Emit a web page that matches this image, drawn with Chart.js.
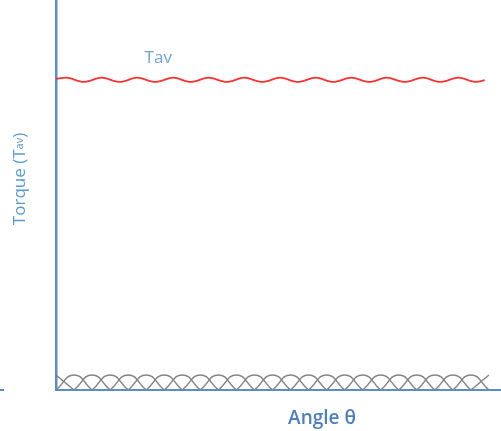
<!DOCTYPE html>
<html>
<head>
<meta charset="utf-8">
<script src="https://cdn.jsdelivr.net/npm/chart.js@4.4.0/dist/chart.umd.min.js"></script>
<style>
  html, body { margin: 0; padding: 0; background: #fff; }
  #wrap { width: 501px; height: 431px; }
</style>
</head>
<body>
<div id="wrap"><canvas id="torqueChart"></canvas></div>
<script>
// angle in degrees, torque in arbitrary units (0 = axis)
var humpAngles = [0, 30, 60, 90, 120, 150, 180, 210, 240, 270, 300, 330, 360,
                  390, 420, 450, 480, 510, 540, 570, 600, 630, 660, 690, 720];
var phaseA = [0, 5, 0, 5, 0, 5, 0, 5, 0, 5, 0, 5, 0, 5, 0, 5, 0, 5, 0, 5, 0, 5, 0, 5, 0];
var phaseB = [5, 0, 5, 0, 5, 0, 5, 0, 5, 0, 5, 0, 5, 0, 5, 0, 5, 0, 5, 0, 5, 0, 5, 0, 5];

var avgAngles = [0, 17, 46, 76, 106, 135, 165, 195, 224, 254, 284, 313, 343,
                 373, 402, 432, 461, 491, 521, 550, 580, 610, 639, 669, 699, 713];
var avgTorque = [103.7, 104.1, 102.7, 104.1, 102.7, 104.1, 102.7, 104.1, 102.7,
                 104.1, 102.7, 104.1, 102.7, 104.1, 102.7, 104.1, 102.7, 104.1,
                 102.7, 104.1, 102.7, 104.1, 102.7, 104.1, 102.7, 103.3];

var axisBlue = '#5b8ec9';

// each zero is doubled so the humps meet in a sharp cusp
function humpPoints(values) {
  var pts = [];
  for (var i = 0; i < humpAngles.length; i++) {
    pts.push({x: humpAngles[i], y: values[i]});
    if (values[i] === 0 && i > 0 && i < humpAngles.length - 1) {
      pts.push({x: humpAngles[i], y: values[i]});
    }
  }
  return pts;
}

var avgPoints = avgAngles.map(function(a, i) { return {x: a, y: avgTorque[i]}; });

var labelPlugin = {
  id: 'labels',
  afterDraw: function(chart) {
    var ctx = chart.ctx;
    var xs = chart.scales.x, ys = chart.scales.y;
    ctx.save();
    // little dash at the far left of the angle axis
    ctx.strokeStyle = axisBlue;
    ctx.lineWidth = 2;
    ctx.beginPath();
    ctx.moveTo(0, ys.getPixelForValue(0));
    ctx.lineTo(4, ys.getPixelForValue(0));
    ctx.stroke();

    // Tav above the red line
    ctx.fillStyle = '#6fa3dc';
    ctx.font = '17px "Open Sans"';
    ctx.textAlign = 'center';
    ctx.textBaseline = 'alphabetic';
    ctx.fillText('Tav', xs.getPixelForValue(170), ys.getPixelForValue(109));

    // x title
    ctx.fillStyle = '#4a7fc0';
    ctx.font = '600 19px "Open Sans"';
    ctx.fillText('Angle θ', 322, 424);

    // y title, rotated, with small "av"
    ctx.translate(25, 179);
    ctx.rotate(-Math.PI / 2);
    ctx.fillStyle = '#5b9bd5';
    ctx.textAlign = 'left';
    var big = '17px "Open Sans"', small = '11px "Open Sans"';
    ctx.font = big;
    var w1 = ctx.measureText('Torque (T').width;
    var w3 = ctx.measureText(')').width;
    ctx.font = small;
    var w2 = ctx.measureText('av').width;
    var x0 = -(w1 + w2 + w3) / 2;
    ctx.font = big;
    ctx.fillText('Torque (T', x0, 0);
    ctx.font = small;
    ctx.fillText('av', x0 + w1, -2);
    ctx.font = big;
    ctx.fillText(')', x0 + w1 + w2, 0);
    ctx.restore();
  }
};

new Chart(document.getElementById('torqueChart'), {
  type: 'line',
  data: {
    datasets: [{
      label: 'Tav',
      data: avgPoints,
      borderColor: '#ff3030',
      borderWidth: 1.8,
      pointRadius: 0,
      cubicInterpolationMode: 'monotone'
    }, {
      label: 'Phase A',
      data: humpPoints(phaseA),
      borderColor: '#858585',
      borderWidth: 1.5,
      pointRadius: 0,
      tension: 0.5
    }, {
      label: 'Phase B',
      data: humpPoints(phaseB),
      borderColor: '#858585',
      borderWidth: 1.5,
      pointRadius: 0,
      tension: 0.5
    }]
  },
  options: {
    responsive: true,
    maintainAspectRatio: false,
    animation: false,
    layout: { padding: { left: 56, right: 0, top: 0, bottom: 41 } },
    plugins: { legend: { display: false }, tooltip: { enabled: false } },
    scales: {
      x: {
        type: 'linear', min: 0, max: 740,
        ticks: { display: false },
        grid: { display: false, drawTicks: false },
        border: { display: true, color: axisBlue, width: 2 }
      },
      y: {
        min: 0, max: 130,
        ticks: { display: false },
        grid: { display: false, drawTicks: false },
        border: { display: true, color: axisBlue, width: 2.5 }
      }
    }
  },
  plugins: [labelPlugin]
});
</script>
</body>
</html>
